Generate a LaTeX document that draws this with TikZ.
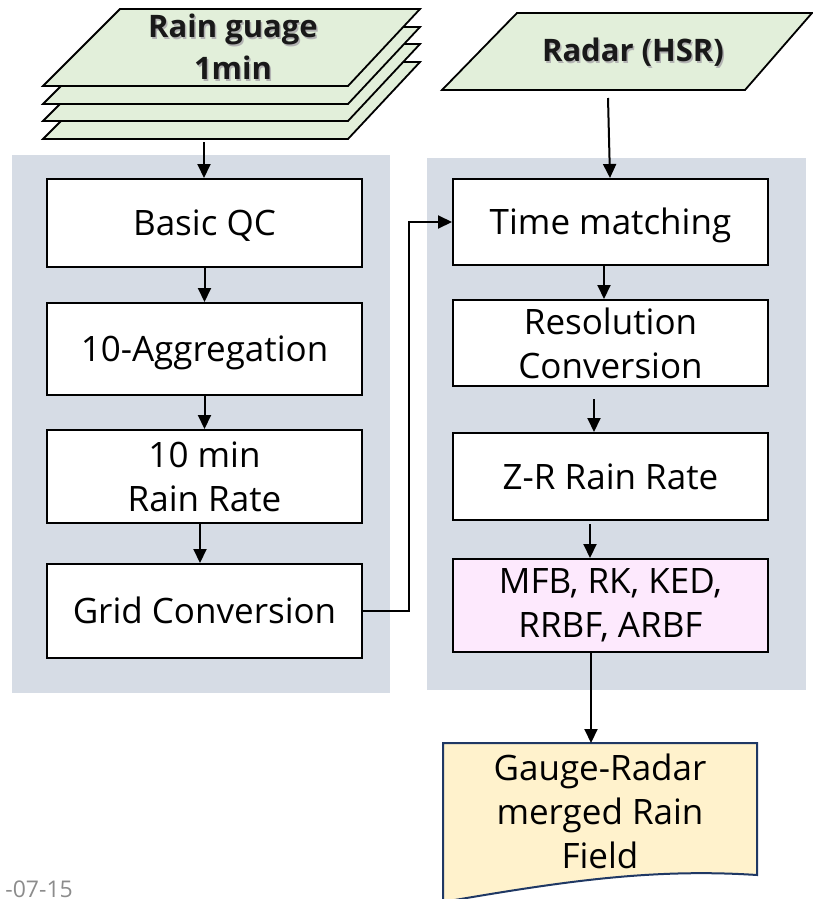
\documentclass[tikz,border=0pt]{standalone}
\usepackage{fontspec}
\setmainfont{Open Sans}
\usetikzlibrary{arrows.meta,calc}
\definecolor{panelgray}{HTML}{D6DCE5}
\definecolor{inputgreen}{HTML}{E2EFDA}
\definecolor{methodpink}{HTML}{FDE9FD}
\definecolor{docyellow}{HTML}{FFF2CC}
\definecolor{docborder}{HTML}{1F3864}
\newcommand\shd[1]{\leavevmode\rlap{\kern1.5pt\raisebox{-1.8pt}{\textcolor{black!30}{#1}}}#1}
\tikzset{
  panel/.style={fill=panelgray, draw=none},
  procbox/.style={draw=black, line width=2, fill=white, minimum width=315, inner sep=0,
    align=center, font=\fontsize{35}{44}\selectfont},
  oneline/.style={text height=25, text depth=0},
  inbox/.style={draw=black, line width=1.8, fill=inputgreen},
  arr/.style={line width=2, -{Triangle[length=14,width=13]}},
  boldlab/.style={align=center, font=\bfseries\fontsize{31}{42}\selectfont, text=black!90}
}
\begin{document}
\begin{tikzpicture}[x=1pt,y=-1pt]
\useasboundingbox (0,0) rectangle (813,899);
% panels
\fill[panelgray] (12,155) rectangle (390,693);
\fill[panelgray] (427,158) rectangle (806,690);
% rain gauge stack
\foreach \d in {53,35,18,0}{
  \filldraw[inbox] (120,9+\d) -- (420,9+\d) -- (348,86+\d) -- (43,86+\d) -- cycle;
}
\coordinate (gaugebot) at (204,139);
\node[boldlab] (gauge) at (233,48) {\shd{Rain guage}\\\shd{1min}};
% radar
\filldraw[inbox] (517,13) -- (812,13) -- (745,90) -- (442,90) -- cycle;
\coordinate (radarbot) at (608,98);
\node[boldlab] (radar) at (633,53) {\shd{Radar (HSR)}};
% left column
\node[procbox, oneline, minimum height=88] (bqc) at (204.5,223) {Basic QC};
\node[procbox, oneline, minimum height=92] (agg) at (204.5,349) {10-Aggregation};
\node[procbox, minimum height=93] (rr) at (204.5,476.5) {10 min\\Rain Rate};
\node[procbox, oneline, minimum height=94] (grid) at (204.5,611) {Grid Conversion};
% right column
\node[procbox, oneline, minimum height=86] (tm) at (610.5,222) {Time matching};
\node[procbox, minimum height=86] (res) at (610.5,343) {Resolution\\Conversion};
\node[procbox, oneline, minimum height=87] (zr) at (610.5,476.5) {Z-R Rain Rate};
\node[procbox, minimum height=93, fill=methodpink] (mfb) at (610.5,605.5) {MFB, RK, KED,\\RRBF, ARBF};
% output document
\filldraw[fill=docyellow, draw=docborder, line width=2]
  (443,905) -- (443,743) -- (757,743) -- (757,875)
  .. controls (650,868) and (560,882) .. (443,902);
\node[align=center, font=\fontsize{35}{44}\selectfont] (out) at (600,811) {Gauge-Radar\\merged Rain\\Field};
\coordinate (outtop) at (591,743);
% date fragment
\node[anchor=base east, font=\fontsize{23}{26}\selectfont, text=black!45, inner sep=0] (date) at (73,897) {-07-15};
% connectors
\draw[arr] (gaugebot) ++(0,3) -- (bqc.north -| gaugebot);
\draw[arr] (radarbot) -- ([xshift=-0.5]tm.north);
\draw[arr] (bqc.south) -- (agg.north);
\draw[arr] (agg.south) -- (rr.north);
\draw[arr] ([xshift=-4.5]rr.south) -- ([xshift=-4.5]grid.north);
\draw[arr] (grid.east) -- ++(46,0) |- (tm.west);
\draw[arr] ([xshift=-6.5]tm.south) -- ([xshift=-6.5]res.north);
\draw[arr] ([xshift=-16.5,yshift=-12]res.south) -- ([xshift=-16.5]zr.north);
\draw[arr] ([xshift=-20.5,yshift=-3]zr.south) -- ([xshift=-20.5]mfb.north);
\draw[arr] ([xshift=-19.5]mfb.south) -- (outtop);
\end{tikzpicture}
\end{document}
